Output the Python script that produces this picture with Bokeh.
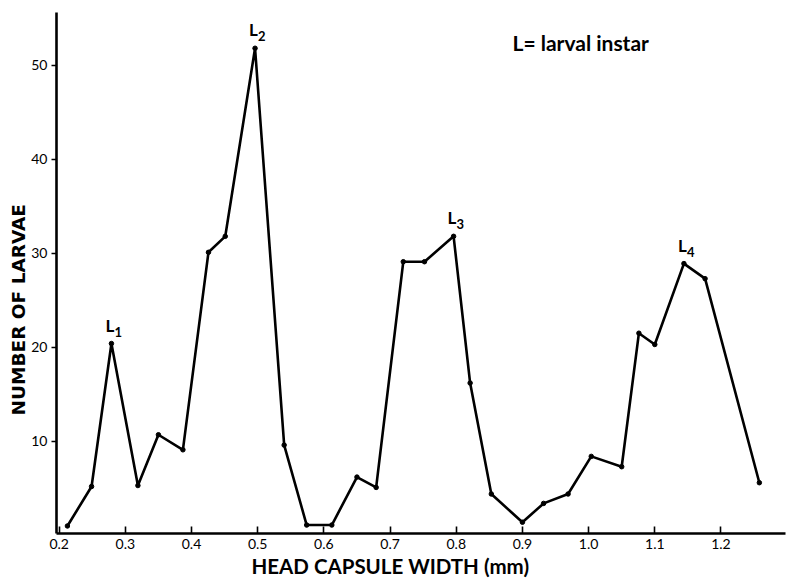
from bokeh.plotting import figure
from bokeh.models import ColumnDataSource, FixedTicker, Range1d, Label, LabelSet, Title
from bokeh.core.properties import value
from bokeh.embed import file_html
from bokeh.resources import INLINE

# ---- data ----
head_width = [0.2125, 0.249, 0.279, 0.319, 0.350, 0.387, 0.4256, 0.451, 0.496,
              0.540, 0.574, 0.612, 0.650, 0.679, 0.720, 0.752, 0.796, 0.821,
              0.853, 0.900, 0.932, 0.969, 1.004, 1.050, 1.076, 1.100, 1.144,
              1.176, 1.258]
larvae = [1.0, 5.2, 20.4, 5.3, 10.7, 9.1, 30.1, 31.8, 51.8,
          9.6, 1.1, 1.1, 6.2, 5.1, 29.1, 29.1, 31.8, 16.2,
          4.4, 1.4, 3.4, 4.4, 8.4, 7.3, 21.5, 20.3, 28.9,
          27.3, 5.6]
peak_index = [2, 8, 16, 26]
peak_sub = ["1", "2", "3", "4"]
x_ticks = [0.2, 0.3, 0.4, 0.5, 0.6, 0.7, 0.8, 0.9, 1.0, 1.1, 1.2]
x_tick_labels = ["0.2", "0.3", "0.4", "0.5", "0.6", "0.7", "0.8", "0.9", "1.0", "1.1", "1.2"]
y_ticks = [10, 20, 30, 40, 50]

FONT = "Lato"

p = figure(width=788, height=581, output_backend="svg", toolbar_location=None,
           x_range=Range1d(0.196, 1.2975), y_range=Range1d(0.2, 55.6),
           min_border_left=56, min_border_right=3, min_border_top=12,
           min_border_bottom=48)
p.outline_line_color = None
p.grid.visible = False
p.background_fill_color = "white"
p.border_fill_color = "white"

src = ColumnDataSource(dict(x=head_width, y=larvae))
p.line("x", "y", source=src, line_color="black", line_width=2.6)
p.scatter("x", "y", source=src, size=4.5, fill_color="black", line_color="black")

# axes
p.xaxis.ticker = FixedTicker(ticks=x_ticks)
p.xaxis.major_label_overrides = {t: l for t, l in zip(x_ticks, x_tick_labels)}
p.yaxis.ticker = FixedTicker(ticks=y_ticks)
for ax in (p.xaxis, p.yaxis):
    ax.axis_line_width = 2.6
    ax.axis_line_color = "black"
    ax.major_tick_line_width = 1.6
    ax.major_tick_line_color = "black"
    ax.minor_tick_line_color = None
    ax.major_label_text_font = FONT
    ax.major_label_text_font_size = "14px"
    ax.major_label_text_color = "black"
p.xaxis.major_tick_in = 7
p.xaxis.major_tick_out = 0
p.xaxis.major_label_standoff = 5
p.yaxis.major_tick_in = 0
p.yaxis.major_tick_out = 5
p.yaxis.major_label_standoff = 4

# axis titles as side-panel titles
p.add_layout(Title(text="HEAD CAPSULE WIDTH (mm)", align="left", offset=195,
                   standoff=0, text_font=FONT, text_font_style="bold",
                   text_font_size="20.5px", text_color="black"), "below")
p.add_layout(Title(text="NUMBER OF LARVAE", align="left", offset=118,
                   standoff=0, text_font="DejaVu Sans", text_font_style="bold",
                   text_font_size="18.5px", text_color="black"), "left")

# peak labels L1..L4
pk = ColumnDataSource(dict(x=[head_width[i] for i in peak_index],
                           y=[larvae[i] for i in peak_index],
                           L=["L"] * len(peak_index), sub=peak_sub))
p.add_layout(LabelSet(x="x", y="y", text="L", source=pk, x_offset=-6, y_offset=12,
                      text_font=value(FONT), text_font_style="bold", text_font_size="17px",
                      text_align="left", text_baseline="alphabetic", text_color="black"))
p.add_layout(LabelSet(x="x", y="y", text="sub", source=pk, x_offset=3, y_offset=7,
                      text_font=value(FONT), text_font_style="bold", text_font_size="13px",
                      text_align="left", text_baseline="alphabetic", text_color="black"))

# note
p.add_layout(Label(x=0.885, y=52.4, text="L= larval instar", text_font=FONT,
                   text_font_style="bold", text_font_size="21px", text_align="left",
                   text_baseline="middle", text_color="black"))

open("out.html", "w").write(file_html(p, INLINE))
